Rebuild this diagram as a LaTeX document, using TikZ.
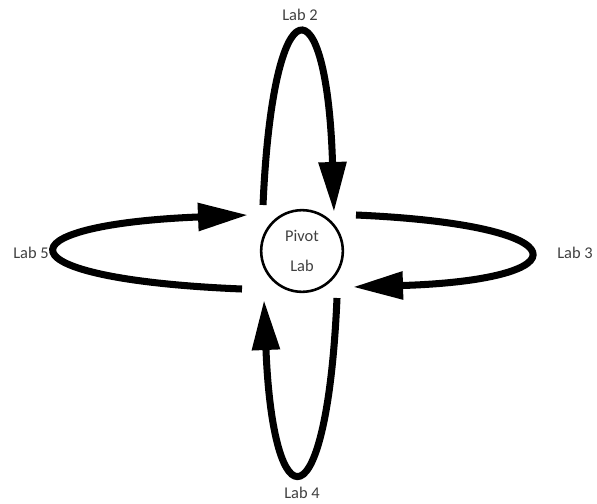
\documentclass[tikz,border=0pt]{standalone}
\usepackage{fontspec}
\setmainfont{Carlito}
\usetikzlibrary{arrows.meta}

\begin{document}
\begin{tikzpicture}[
        x=0.03cm, y=-0.03cm,
        font=\fontsize{14}{24}\selectfont,
        >={Triangle[length=1.5cm, width=0.8cm]},
        hub/.style ={draw, circle, line width=2.2pt, minimum size=2.45cm, inner sep=0pt,
                align=center, text=black!75},
        lab/.style ={text=black!75},
        loopy/.style={->, line width=6pt}
    ]
    \useasboundingbox (0,0) rectangle (597,503);

    %% --- centre ---
    \node[hub] (pivot) at (302,251) {Pivot\\[1pt]Lab};

    %% --- outer labs ---
    \node[lab] (lab2) at (300,15)  {Lab 2};
    \node[lab] (lab3) at (575,253) {Lab 3};
    \node[lab] (lab4) at (302,493) {Lab 4};
    \node[lab] (lab5) at (31,253)  {Lab 5};

    %% --- loop ends next to the pivot ---
    \coordinate (top-out)   at (263,205);
    \coordinate (top-in)    at (334,212);
    \coordinate (right-out) at (356,215);
    \coordinate (right-in)  at (353,287);
    \coordinate (bot-out)   at (337,298);
    \coordinate (bot-in)    at (264,300);
    \coordinate (left-out)  at (242,289);
    \coordinate (left-in)   at (248,215);

    %% --- loops ---
    \draw[loopy] (top-out)   .. controls (273,-21) and (327,-21) .. (top-in);
    \draw[loopy] (right-out) .. controls (584,225) and (584,280) .. (right-in);
    \draw[loopy] (bot-out)   .. controls (327,527) and (273,527) .. (bot-in);
    \draw[loopy] (left-out)  .. controls (-3,279)  and (-3,225)  .. (left-in);

\end{tikzpicture}
\end{document}
